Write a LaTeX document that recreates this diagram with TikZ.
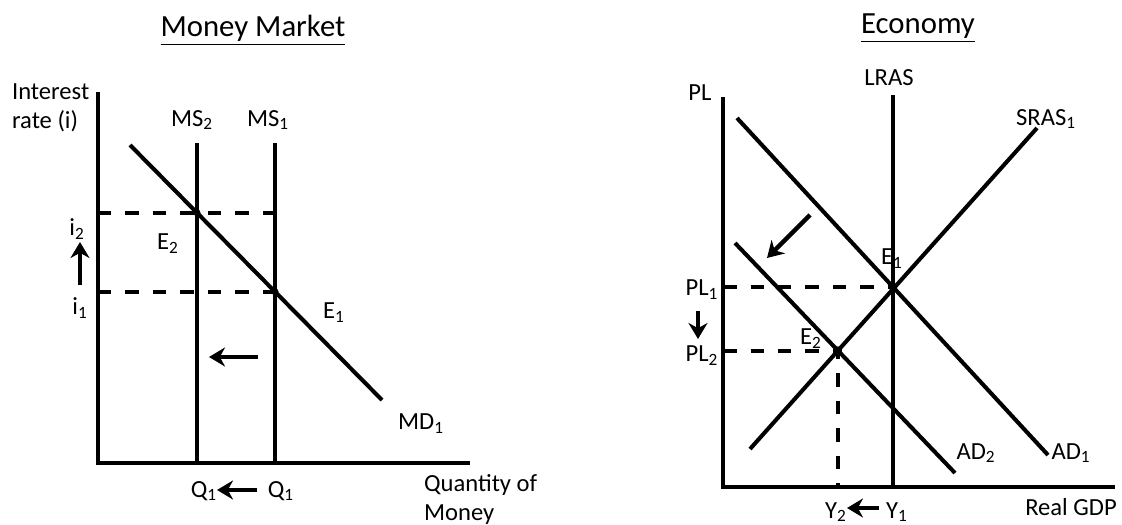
\documentclass[tikz,border=0pt]{standalone}
\usepackage{fontspec}
\setmainfont{Carlito}
\usetikzlibrary{arrows.meta}

\begin{document}
\begin{tikzpicture}[x=0.02cm, y=-0.02cm,
  axis/.style={line width=2.6pt},
  curve/.style={line width=2.3pt},
  guide/.style={line width=2.4pt, dash pattern=on 0.27cm off 0.28cm},
  movearrow/.style={line width=2.5pt, -{Stealth[length=0.32cm, width=0.38cm]}},
  lbl/.style={font=\fontsize{14}{16.5}\selectfont, inner sep=1pt},
  ttl/.style={font=\fontsize{17.5}{21}\selectfont, inner sep=1pt}]
  \useasboundingbox (0,0) rectangle (1122,524);

  % ============================================================
  % 1. Money Market (left panel)
  % ============================================================
  \node[ttl] (mmTitle) at (253,30) {\underline{Money Market}};

  % axes
  \coordinate (mmO)   at (98,463);
  \coordinate (mmTop) at (98,92);
  \coordinate (mmEnd) at (470,463);
  \draw[axis] (mmTop) -- (mmO) -- (mmEnd);

  % money supply (vertical) and money demand
  \coordinate (ms2T) at (197,143);  \coordinate (ms2B) at (197,463);
  \coordinate (ms1T) at (275,143);  \coordinate (ms1B) at (275,463);
  \coordinate (mdS)  at (130,145);  \coordinate (mdE)  at (382,400);
  \draw[curve] (ms2T) -- (ms2B);
  \draw[curve] (ms1T) -- (ms1B);
  \draw[curve] (mdS) -- (mdE);

  % equilibria
  \coordinate (mmE2) at (intersection of mdS--mdE and ms2T--ms2B);
  \coordinate (mmE1) at (intersection of mdS--mdE and ms1T--ms1B);
  \draw[guide] (mmE2 -| mmO) -- (mmE2 -| ms1T);
  \draw[guide] (mmE1 -| mmO) -- (mmE1);
  \fill (mmE2) circle (2pt);
  \fill (mmE1) circle (2pt);

  % labels
  \node[lbl, align=left, anchor=west] (mmYlab) at (10,108) {Interest\\rate (i)};
  \node[lbl] (ms2Lab) at (192,120) {MS\textsubscript{2}};
  \node[lbl] (ms1Lab) at (268,120) {MS\textsubscript{1}};
  \node[lbl] (i2Lab)  at (77,229)  {i\textsubscript{2}};
  \node[lbl] (i1Lab)  at (80,308)  {i\textsubscript{1}};
  \node[lbl] (mmE2Lab) at (168,244) {E\textsubscript{2}};
  \node[lbl] (mmE1Lab) at (334,313) {E\textsubscript{1}};
  \node[lbl] (md1Lab) at (421,424) {MD\textsubscript{1}};
  \node[lbl] (q2Lab)  at (204,491) {Q\textsubscript{1}};
  \node[lbl] (q1Lab)  at (281,491) {Q\textsubscript{1}};
  \node[lbl, align=left, anchor=west] (mmXlab) at (422,499) {Quantity of\\Money};

  % shift arrows
  \coordinate (iArrS)  at (80,285);  \coordinate (iArrE)  at (80,242);
  \coordinate (msArrS) at (258,357); \coordinate (msArrE) at (209,357);
  \coordinate (qArrS)  at (257,490); \coordinate (qArrE)  at (217,490);
  \draw[movearrow] (iArrS) -- (iArrE);
  \draw[movearrow] (msArrS) -- (msArrE);
  \draw[movearrow] (qArrS) -- (qArrE);

  % ============================================================
  % 2. Economy (right panel)
  % ============================================================
  \node[ttl] (ecTitle) at (918,28) {\underline{Economy}};

  % axes
  \coordinate (ecO)   at (723,487);
  \coordinate (ecTop) at (723,97);
  \coordinate (ecEnd) at (1115,487);
  \draw[axis] (ecTop) -- (ecO) -- (ecEnd);

  % LRAS, SRAS and the two AD curves
  \coordinate (lrasT) at (893,95);   \coordinate (lrasB) at (893,487);
  \coordinate (srasS) at (750,449);  \coordinate (srasE) at (1037,128);
  \coordinate (ad1S)  at (737,118);  \coordinate (ad1E)  at (1048,455);
  \coordinate (ad2S)  at (735,243);  \coordinate (ad2E)  at (955,473);
  \draw[curve] (lrasT) -- (lrasB);
  \draw[curve] (srasS) -- (srasE);
  \draw[curve] (ad1S) -- (ad1E);
  \draw[curve] (ad2S) -- (ad2E);

  % equilibria
  \coordinate (ecE1) at (intersection of ad1S--ad1E and lrasT--lrasB);
  \coordinate (ecE2) at (intersection of ad2S--ad2E and srasS--srasE);
  \draw[guide] (ecE1 -| ecO) -- (ecE1);
  \draw[guide] (ecE2 -| ecO) -- (ecE2) -- (ecE2 |- ecO);
  \fill (ecE1) circle (2.4pt);
  \fill (ecE2) circle (2.4pt);

  % labels
  \node[lbl] (plLab)    at (700,93)   {PL};
  \node[lbl] (lrasLab)  at (889,78)   {LRAS};
  \node[lbl] (srasLab)  at (1046,119) {SRAS\textsubscript{1}};
  \node[lbl] (ecE1Lab)  at (892,259)  {E\textsubscript{1}};
  \node[lbl] (ecE2Lab)  at (811,339)  {E\textsubscript{2}};
  \node[lbl] (pl1Lab)   at (702,290)  {PL\textsubscript{1}};
  \node[lbl] (pl2Lab)   at (702,356)  {PL\textsubscript{2}};
  \node[lbl] (ad2Lab)   at (976,453)  {AD\textsubscript{2}};
  \node[lbl] (ad1Lab)   at (1071,453) {AD\textsubscript{1}};
  \node[lbl] (y2Lab)    at (836,512)  {Y\textsubscript{2}};
  \node[lbl] (y1Lab)    at (897,512)  {Y\textsubscript{1}};
  \node[lbl] (ecXlab)   at (1071,507) {Real GDP};

  % shift arrows
  \coordinate (adArrS) at (810,215); \coordinate (adArrE) at (767,258);
  \coordinate (plArrS) at (698,311); \coordinate (plArrE) at (698,339);
  \coordinate (yArrS)  at (879,508); \coordinate (yArrE)  at (847,508);
  \draw[movearrow] (adArrS) -- (adArrE);
  \draw[movearrow] (plArrS) -- (plArrE);
  \draw[movearrow] (yArrS) -- (yArrE);
\end{tikzpicture}
\end{document}
